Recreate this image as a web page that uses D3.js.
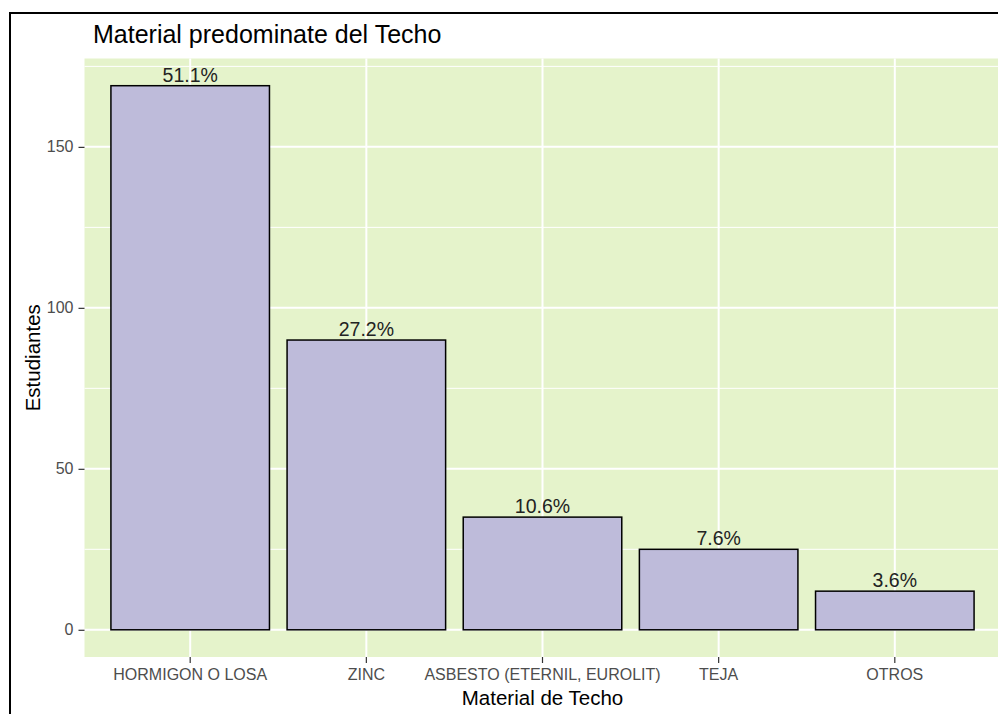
<!DOCTYPE html>
<html>
<head>
<meta charset="utf-8">
<script src="https://cdn.jsdelivr.net/npm/d3@7"></script>
<style>
body { margin: 0; background: #fff; }
text { font-family: "Liberation Sans", Arial, sans-serif; }
</style>
</head>
<body>
<div id="chart"></div>
<script>
var categories = ["HORMIGON O LOSA", "ZINC", "ASBESTO (ETERNIL, EUROLIT)", "TEJA", "OTROS"];
var values = [169, 90, 35, 25, 12];
var labels = ["51.1%", "27.2%", "10.6%", "7.6%", "3.6%"];
var yTicks = [0, 50, 100, 150];
var yMinor = [25, 75, 125, 175];

var W = 998, H = 714;
var svg = d3.select("#chart")
    .append("svg")
    .attr("width", W)
    .attr("height", H);

// outer frame
svg.append("rect")
    .attr("x", 10)
    .attr("y", 13)
    .attr("width", 1100)
    .attr("height", 800)
    .style("fill", "#fff")
    .style("stroke", "#000")
    .style("stroke-width", 2);

var pLeft = 84.5, pRight = 1000.5, pTop = 58.5, pBottom = 657;

var maxV = d3.max(values);
var y = d3.scaleLinear()
    .domain([-maxV * 0.05, maxV * 1.05])
    .range([pBottom, pTop]);

var x = d3.scaleBand()
    .domain(categories)
    .range([pLeft, pRight])
    .paddingInner(0.1)
    .paddingOuter(0.15);

// panel
svg.append("rect")
    .attr("x", pLeft)
    .attr("y", pTop)
    .attr("width", pRight - pLeft)
    .attr("height", pBottom - pTop)
    .style("fill", "#e5f3cb");

// minor grid
svg.selectAll(".minor")
    .data(yMinor)
    .enter()
    .append("line")
    .attr("x1", pLeft)
    .attr("x2", pRight)
    .attr("y1", function (d) { return y(d); })
    .attr("y2", function (d) { return y(d); })
    .style("stroke", "#fff")
    .style("stroke-width", 1);

// major grid
svg.selectAll(".majory")
    .data(yTicks)
    .enter()
    .append("line")
    .attr("x1", pLeft)
    .attr("x2", pRight)
    .attr("y1", function (d) { return y(d); })
    .attr("y2", function (d) { return y(d); })
    .style("stroke", "#fff")
    .style("stroke-width", 2);

svg.selectAll(".majorx")
    .data(categories)
    .enter()
    .append("line")
    .attr("x1", function (d) { return x(d) + x.bandwidth() / 2; })
    .attr("x2", function (d) { return x(d) + x.bandwidth() / 2; })
    .attr("y1", pTop)
    .attr("y2", pBottom)
    .style("stroke", "#fff")
    .style("stroke-width", 2);

// bars
svg.selectAll(".bar")
    .data(values)
    .enter()
    .append("rect")
    .attr("x", function (d, i) { return x(categories[i]); })
    .attr("y", function (d) { return y(d); })
    .attr("width", x.bandwidth())
    .attr("height", function (d) { return y(0) - y(d); })
    .style("fill", "#bebbda")
    .style("stroke", "#000")
    .style("stroke-width", 1.5);

// value labels
svg.selectAll(".lab")
    .data(values)
    .enter()
    .append("text")
    .attr("x", function (d, i) { return x(categories[i]) + x.bandwidth() / 2; })
    .attr("y", function (d) { return y(d) - 4; })
    .attr("text-anchor", "middle")
    .attr("font-size", 19.5)
    .attr("fill", "#222")
    .text(function (d, i) { return labels[i]; });

// y axis
var yAxis = svg.append("g")
    .attr("transform", "translate(" + pLeft + ",0)")
    .call(d3.axisLeft(y).tickValues(yTicks).tickSize(6).tickPadding(5));
yAxis.select(".domain").remove();
yAxis.selectAll(".tick line").style("stroke", "#333").style("stroke-width", 1.2);
yAxis.selectAll(".tick text")
    .attr("font-size", 16)
    .attr("font-family", "Liberation Sans, Arial, sans-serif")
    .attr("fill", "#4d4d4d");

// x axis
var xAxis = svg.append("g")
    .attr("transform", "translate(0," + pBottom + ")")
    .call(d3.axisBottom(x).tickSize(6).tickPadding(6));
xAxis.select(".domain").remove();
xAxis.selectAll(".tick line").style("stroke", "#333").style("stroke-width", 1.2);
xAxis.selectAll(".tick text")
    .attr("font-size", 16)
    .attr("font-family", "Liberation Sans, Arial, sans-serif")
    .attr("fill", "#4d4d4d");

// titles
svg.append("text")
    .attr("x", 93)
    .attr("y", 43)
    .attr("font-size", 25)
    .attr("fill", "#000")
    .text("Material predominate del Techo");

svg.append("text")
    .attr("x", (pLeft + pRight) / 2)
    .attr("y", 705)
    .attr("text-anchor", "middle")
    .attr("font-size", 20.5)
    .attr("fill", "#000")
    .text("Material de Techo");

svg.append("text")
    .attr("transform", "translate(40," + (pTop + pBottom) / 2 + ") rotate(-90)")
    .attr("text-anchor", "middle")
    .attr("font-size", 20.5)
    .attr("fill", "#000")
    .text("Estudiantes");
</script>
</body>
</html>
